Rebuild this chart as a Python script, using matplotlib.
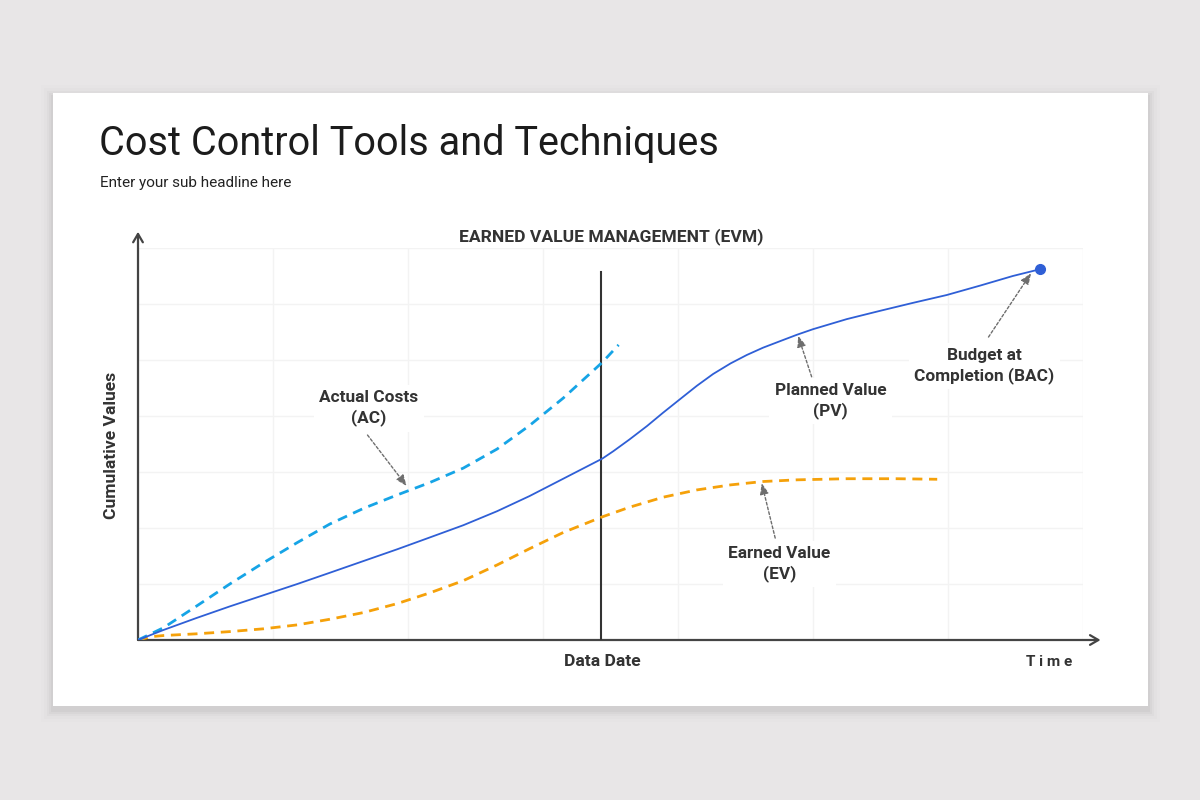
import matplotlib.pyplot as plt
from matplotlib.patches import Rectangle

plt.rcParams['font.family'] = ['Roboto', 'DejaVu Sans']

# data, in grid units (7 x 7 grid)
pv_x = [0, 0.19, 0.43, 0.68, 0.93, 1.18, 1.42, 1.67, 1.92, 2.16, 2.41, 2.66, 2.90, 3.15,
        3.44, 3.52, 3.64, 3.77, 3.89, 4.02, 4.14, 4.26, 4.39, 4.51, 4.63, 4.76, 4.88,
        5.00, 5.25, 5.50, 5.74, 5.99, 6.24, 6.48, 6.68]
pv_y = [0, 0.18, 0.39, 0.60, 0.80, 1.00, 1.20, 1.41, 1.62, 1.83, 2.05, 2.30, 2.57, 2.88,
        3.24, 3.37, 3.58, 3.82, 4.06, 4.31, 4.54, 4.75, 4.94, 5.09, 5.22, 5.34, 5.45,
        5.55, 5.73, 5.88, 6.02, 6.16, 6.33, 6.50, 6.62]

ac_x = [0, 0.19, 0.43, 0.68, 0.93, 1.18, 1.42, 1.67, 1.92, 2.16, 2.41, 2.66, 2.90, 3.15, 3.44, 3.56]
ac_y = [0, 0.22, 0.60, 1.00, 1.38, 1.74, 2.07, 2.35, 2.59, 2.81, 3.07, 3.41, 3.83, 4.32, 4.96, 5.27]

ev_x = [0, 0.10, 0.19, 0.43, 0.68, 0.93, 1.18, 1.42, 1.67, 1.92, 2.16, 2.41, 2.66, 2.90, 3.15,
        3.44, 3.64, 3.89, 4.14, 4.39, 4.63, 4.88, 5.25, 5.62, 5.92]
ev_y = [0, 0.06, 0.08, 0.11, 0.15, 0.20, 0.27, 0.37, 0.49, 0.65, 0.84, 1.06, 1.34, 1.63, 1.92,
        2.20, 2.37, 2.55, 2.68, 2.77, 2.83, 2.86, 2.88, 2.88, 2.87]

data_date = 3.43
data_date_top = 6.57

# label text, text position, arrow start, arrow tip
notes = [
    ("Actual Costs\n(AC)", (1.71, 4.14), (1.70, 3.66), (1.99, 2.75)),
    ("Planned Value\n(PV)", (5.13, 4.27), (4.99, 4.70), (4.89, 5.43)),
    ("Budget at\nCompletion (BAC)", (6.27, 4.90), (6.30, 5.41), (6.615, 6.55)),
    ("Earned Value\n(EV)", (4.75, 1.36), (4.72, 1.82), (4.62, 2.80)),
]

W, H = 1200, 800
fig = plt.figure(figsize=(12, 8), dpi=100)
fig.patch.set_facecolor('#e8e6e7')

def fx(px):
    return px / W

def fy(py):
    return 1 - py / H

# background axes for the card and its soft shadow
bg = fig.add_axes([0, 0, 1, 1], zorder=-5)
bg.set_xlim(0, W)
bg.set_ylim(H, 0)
bg.axis('off')
for g, a in [(12, 0.008), (9, 0.012), (6, 0.018), (4, 0.024), (2, 0.03)]:
    bg.add_patch(Rectangle((53 - g, 93 - g + 4), 1095 + 2 * g, 613 + 2 * g,
                           facecolor='black', edgecolor='none', alpha=a))
bg.add_patch(Rectangle((53, 93), 1095, 613, facecolor='white', edgecolor='none'))

fig.text(fx(99), fy(155), "Cost Control Tools and Techniques", fontsize=28.5,
         color='#1c1c1c', va='baseline', ha='left')
fig.text(fx(100), fy(187), "Enter your sub headline here", fontsize=11,
         color='#222222', va='baseline', ha='left')
fig.text(fx(611), fy(241), "EARNED VALUE MANAGEMENT (EVM)", fontsize=12.6,
         fontweight='bold', color='#333333', va='baseline', ha='center')

ax = fig.add_axes([fx(138), fy(640), fx(945), 392 / H])
ax.set_xlim(0, 7)
ax.set_ylim(0, 7)
ax.set_facecolor('none')
ax.set_xticks(range(8))
ax.set_yticks(range(8))
ax.tick_params(length=0, labelbottom=False, labelleft=False)
ax.grid(True, color='#f3f3f3', lw=1)
for s in ax.spines.values():
    s.set_visible(False)

# axes with open arrow heads
axis_kw = dict(arrowstyle='->,head_length=0.6,head_width=0.35', color='#444444', lw=1.6,
               shrinkA=0, shrinkB=0)
ax.annotate('', xy=(7.13, 0), xytext=(0, 0), arrowprops=axis_kw, annotation_clip=False)
ax.annotate('', xy=(0, 7.29), xytext=(0, 0), arrowprops=axis_kw, annotation_clip=False)

ax.plot([data_date, data_date], [0, data_date_top], color='#333333', lw=1.5, zorder=3)

ax.plot(ev_x, ev_y, color='#f5a10a', lw=2, dashes=(3.6, 2.4), zorder=4,
        dash_joinstyle='round')
ax.plot(ac_x, ac_y, color='#16a4e6', lw=2, dashes=(3.6, 2.4), zorder=4,
        dash_joinstyle='round')
ax.plot(pv_x, pv_y, color='#2f5fd6', lw=1.3, zorder=5, solid_joinstyle='round')
ax.plot(pv_x[-1], pv_y[-1], 'o', color='#2f5fd6', ms=7, zorder=6, clip_on=False)

for label, tpos, start, tip in notes:
    ax.text(tpos[0], tpos[1], label, ha='center', va='center', fontsize=12.4,
            fontweight='bold', color='#333333', linespacing=1.3, zorder=2,
            bbox=dict(facecolor='white', edgecolor='none', pad=4))
    ax.annotate('', xy=tip, xytext=start,
                arrowprops=dict(arrowstyle='-|>,head_length=0.65,head_width=0.26',
                                color='#6e6e6e', lw=1, linestyle=(0, (2, 1.5)),
                                shrinkA=0, shrinkB=0), zorder=7)

fig.text(fx(111), fy(445), "Cumulative Values", rotation=90, fontsize=12.6,
         fontweight='bold', color='#333333', ha='center', va='center')
fig.text(fx(602), fy(662), "Data Date", fontsize=12.6, fontweight='bold',
         color='#333333', ha='center', va='center')
fig.text(fx(1049), fy(662), "T i m e", fontsize=11, fontweight='bold',
         color='#333333', ha='center', va='center')

plt.savefig("out.png", dpi=100, facecolor=fig.get_facecolor())
